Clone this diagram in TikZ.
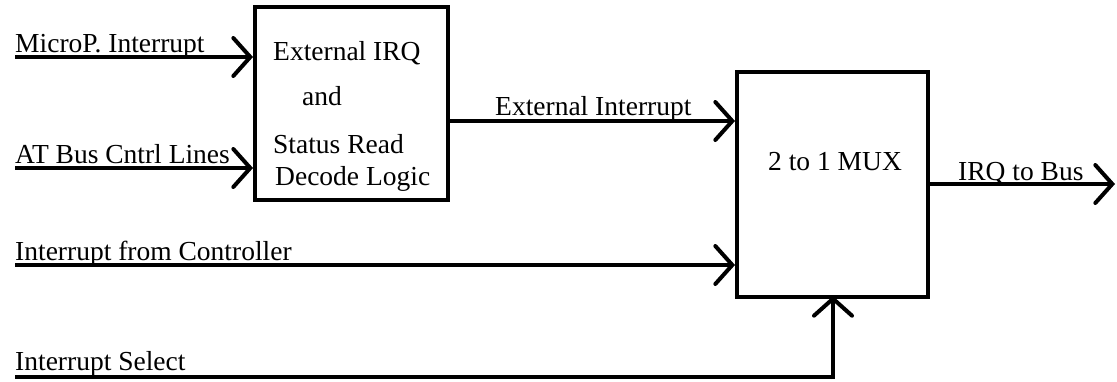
\documentclass[tikz,border=0pt]{standalone}
\usepackage{fontspec}
\setmainfont{Liberation Serif}
\usetikzlibrary{arrows.meta}
\begin{document}
\begin{tikzpicture}[x=1pt,y=-1pt,
  wire/.style={line width=4pt},
  sig/.style={wire,-{Straight Barb[length=17pt,width=38pt,line cap=round]}},
  blk/.style={draw,line width=4pt,inner sep=0pt},
  lbl/.style={anchor=base west,inner sep=0pt,font=\fontsize{27.5}{31}\selectfont}]
\useasboundingbox (0,0) rectangle (1117,381);

% blocks
\node[blk,minimum width=193pt,minimum height=193pt] (dec) at (351.5,103.5) {};
\node[blk,minimum width=191pt,minimum height=225pt] (mux) at (832.5,184.5) {};

% text inside the decode block
\node[lbl] (t1) at (273,60) {External IRQ};
\node[lbl] (t2) at (302,105) {and};
\node[lbl] (t3) at (273,153) {Status Read};
\node[lbl] (t4) at (275,185) {Decode Logic};
\node[lbl] (t5) at (768,170) {2 to 1 MUX};

% signal sources
\coordinate (inA) at (15,57);
\coordinate (inB) at (15,168);
\coordinate (inC) at (15,265);
\coordinate (inD) at (15,377);
\coordinate (out) at (1115,184);

% input signals to the decode block
\draw[sig] (inA) -- (inA -| dec.west);
\draw[sig] (inB) -- (inB -| dec.west);
\node[lbl] (lA) at (15,52) {MicroP. Interrupt};
\node[lbl] (lB) at (15,163) {AT Bus Cntrl Lines};

% decode block to multiplexer
\draw[sig] (dec.east |- 0,121) -- (mux.west |- 0,121);
\node[lbl] (lE) at (495,115) {External Interrupt};

% controller interrupt
\draw[sig] (inC) -- (inC -| mux.west);
\node[lbl] (lC) at (15,260) {Interrupt from Controller};

% select line
\draw[wire] (inD) -- (833,377);
\draw[sig] (833,379) -- (833,296) coordinate (sel);
\node[lbl] (lD) at (15,370) {Interrupt Select};

% output
\draw[sig] (mux.east |- out) -- (out);
\node[lbl] (lO) at (958,180) {IRQ to Bus};
\end{tikzpicture}
\end{document}
